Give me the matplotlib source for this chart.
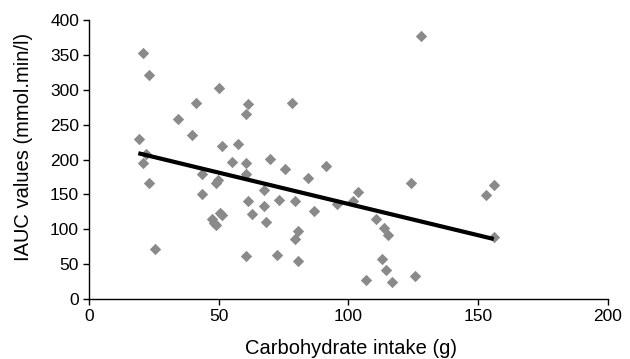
import matplotlib
matplotlib.use("Agg")
import matplotlib.pyplot as plt

plt.rcParams['font.family'] = ['Liberation Sans', 'DejaVu Sans']

carb_x = [19.3, 20.9, 20.9, 22.0, 23.1, 23.1, 25.4, 34.4, 39.6, 41.2, 43.4, 43.4,
          47.3, 48.3, 48.8, 48.8, 50.5, 50.2, 49.8, 51.4, 51.4, 55.2, 57.5, 60.4,
          60.4, 60.4, 60.4, 61.4, 61.4, 62.9, 67.6, 67.6, 68.1, 69.6, 72.4, 73.1,
          75.5, 78.3, 79.4, 80.7, 79.4, 80.7, 84.5, 86.7, 91.3, 95.7, 101.6, 103.8,
          106.6, 110.5, 112.8, 113.8, 114.5, 115.3, 116.6, 124.1, 125.6, 128.0,
          152.9, 156.1, 156.2]
iauc_y = [230, 352, 195, 208, 321, 167, 71, 258, 235, 281, 179, 151,
          115, 109, 106, 166, 123, 302, 170, 220, 121, 197, 222, 179,
          265, 195, 61, 279, 141, 122, 134, 156, 111, 201, 63, 142,
          186, 281, 86, 97, 141, 55, 174, 126, 191, 136, 141, 153,
          27, 115, 58, 102, 42, 92, 25, 167, 33, 377,
          149, 163, 89]

trend_x = [19, 156]
trend_y = [209, 86]

x_ticks = [0, 50, 100, 150, 200]
y_ticks = [0, 50, 100, 150, 200, 250, 300, 350, 400]

fig = plt.figure(figsize=(6.3, 3.59), dpi=100)
ax = fig.add_axes([0.1413, 0.1671, 0.8237, 0.7772])

ax.scatter(carb_x, iauc_y, marker='D', s=5.8**2, color='#8a8a8a',
           linewidths=0, zorder=2)
ax.plot(trend_x, trend_y, color='black', linewidth=3, solid_capstyle='butt', zorder=3)

ax.set_xlim(0, 200)
ax.set_ylim(0, 400)
ax.set_xticks(x_ticks)
ax.set_yticks(y_ticks)
ax.spines['top'].set_visible(False)
ax.spines['right'].set_visible(False)
for s in ['left', 'bottom']:
    ax.spines[s].set_linewidth(1.0)
ax.tick_params(direction='out', length=4.2, width=1.0, labelsize=12.5, pad=3)
ax.set_xlabel('Carbohydrate intake (g)', fontsize=14.5)
ax.set_ylabel('IAUC values (mmol.min/l)', fontsize=14.5)
ax.xaxis.set_label_coords(0.505, -0.145)
ax.yaxis.set_label_coords(-0.107, 0.546)

fig.savefig('out.png', dpi=100)
